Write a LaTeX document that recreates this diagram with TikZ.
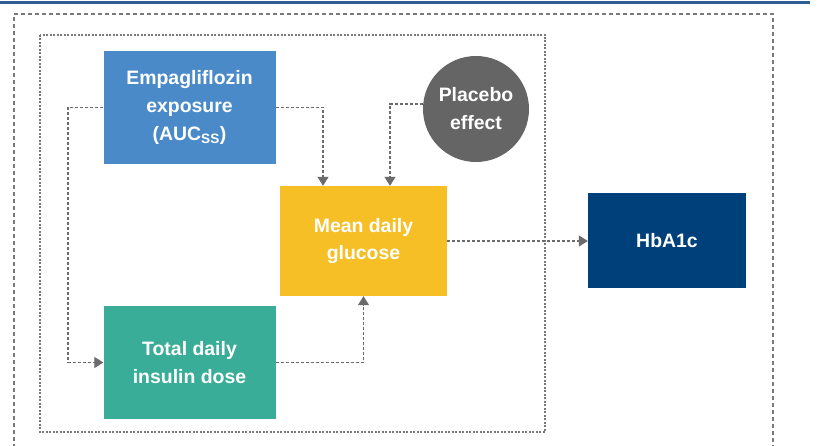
\documentclass[tikz,border=0pt]{standalone}
\usepackage{fontspec}
\setmainfont{Liberation Sans}
\usetikzlibrary{arrows.meta,calc}
\definecolor{topblue}{HTML}{2E5E94}
\definecolor{empblue}{HTML}{4A8AC9}
\definecolor{plagray}{HTML}{656565}
\definecolor{gluyellow}{HTML}{F6BF26}
\definecolor{insteal}{HTML}{3AAD99}
\definecolor{hbanavy}{HTML}{00407A}
\definecolor{conngray}{HTML}{6B6B6B}
\definecolor{framegray}{HTML}{7A7A7A}
\tikzset{
  boxnode/.style={rectangle, draw=none, text=white, align=center,
    font=\bfseries\fontsize{19.5}{28}\selectfont, inner sep=0pt},
  conn/.style={draw=conngray, line width=1.3bp, dash pattern=on 3bp off 2bp,
    -{Triangle[length=9bp,width=11bp]}},
  outerframe/.style={draw=framegray, line width=1.1bp, dash pattern=on 4bp off 3bp},
  innerframe/.style={draw=framegray, line width=1.1bp, dash pattern=on 2bp off 1.5bp},
}
\begin{document}
\begin{tikzpicture}[x=1bp,y=-1bp]
\useasboundingbox (0,0) rectangle (818,446);
\fill[white] (0,0) rectangle (818,446);
\draw[topblue, line width=2.2bp] (0,2.5) -- (810,2.5);
\draw[outerframe] (14,448) -- (14,14) -- (773,14) -- (773,448);
\draw[innerframe] (40,35) rectangle (545,432);

\node[boxnode, fill=empblue, minimum width=172bp, minimum height=113bp] (emp) at (189.5,107.5)
  {Empagliflozin\\exposure\\(AUC\textsubscript{SS})};
\node[boxnode, fill=gluyellow, minimum width=167bp, minimum height=110bp] (glu) at (363.5,241)
  {Mean daily\\glucose};
\node[boxnode, fill=insteal, minimum width=172bp, minimum height=113bp] (ins) at (189.5,362.5)
  {Total daily\\insulin dose};
\node[boxnode, fill=hbanavy, minimum width=158bp, minimum height=95bp] (hba) at (667,240.5)
  {HbA1c};
\node[boxnode, circle, fill=plagray, minimum size=106bp] (pla) at (476,109)
  {Placebo\\effect};

\coordinate (c1) at (68,107.5);
\draw[conn] (emp.west) -- (c1) |- (ins.west);
\draw[conn] (emp.east) -| ([xshift=-40.5bp]glu.north);
\draw[conn] ([yshift=5bp]pla.west) -| ([xshift=26.5bp]glu.north);
\draw[conn] (ins.east) -| (glu.south);
\draw[conn] (glu.east) -- (glu.east -| hba.west);
\end{tikzpicture}
\end{document}
